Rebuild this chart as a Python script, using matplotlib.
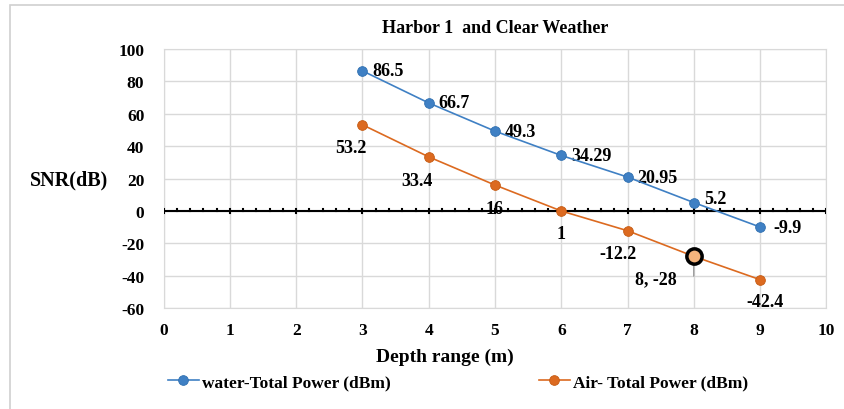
import matplotlib.pyplot as plt
from matplotlib.patches import Rectangle

depth = [3, 4, 5, 6, 7, 8, 9]
water = [86.5, 66.7, 49.3, 34.29, 20.95, 5.2, -9.9]
air = [53.2, 33.4, 16, 0, -12.2, -28, -42.4]
water_labels = ["86.5", "66.7", "49.3", "34.29", "20.95", "5.2", "-9.9"]
air_labels = ["53.2", "33.4", "16", "1", "-12.2", "8, -28", "-42.4"]

blue = "#3f80c4"
orange = "#dc6a20"

plt.rcParams['font.family'] = ['Liberation Serif', 'DejaVu Serif']
plt.rcParams['font.weight'] = 'bold'
plt.rcParams['axes.unicode_minus'] = False

fig = plt.figure(figsize=(8.44, 4.10), dpi=100)
ax = fig.add_axes([0.194, 0.246, 0.785, 0.632])

# outer chart frame
fig.patches.append(Rectangle((10 / 844, -0.05), 1.0, 1 - 6 / 410 + 0.05,
                             transform=fig.transFigure, fill=False,
                             edgecolor="#d0d0d0", lw=1.2))

ax.plot(depth, water, color=blue, lw=1.2, marker='o', ms=7,
        mfc=blue, mec="#2f6fb0", mew=0.6, label="water-Total Power (dBm)", zorder=4)
ax.plot(depth, air, color=orange, lw=1.2, marker='o', ms=7,
        mfc=orange, mec="#c55a11", mew=0.6, label="Air- Total Power (dBm)", zorder=4)

# highlighted point
ax.plot(depth[5], air[5], 'o', ms=11, mfc="#f6b47c", mec="black", mew=2.5, zorder=5)

for x, y, t in zip(depth, water, water_labels):
    dx, dy = 10, 0
    if t == "5.2":
        dy = 4
    if t == "-9.9":
        dx = 13
    ax.annotate(t, (x, y), textcoords='offset pixels', xytext=(dx, dy),
                ha='left', va='center', fontsize=13, fontweight='bold')

air_off = [(-12, -23), (-12, -24), (0, -23), (0, -23), (-10, -23), (-38, -22), (5, -22)]
for x, y, t, (dx, dy) in zip(depth, air, air_labels, air_off):
    ax.annotate(t, (x, y), textcoords='offset pixels', xytext=(dx, dy),
                ha='center', va='center', fontsize=13, fontweight='bold', zorder=6)

# leader line for the highlighted label
ax.annotate("", (depth[5], air[5] - 3), xytext=(depth[5], air[5] - 14),
            arrowprops=dict(arrowstyle='-', color='#888888', lw=0.8))

ax.set_xlim(0, 10)
ax.set_ylim(-60, 100)
ax.set_xticks(range(0, 11))
ax.set_yticks(range(-60, 101, 20))
ax.grid(True, color="#d9d9d9", lw=1)
ax.set_axisbelow(True)
for s in ax.spines.values():
    s.set_color("#d9d9d9")
ax.tick_params(length=0, labelsize=12.5)
ax.tick_params(axis='y', pad=14)
ax.tick_params(axis='x', pad=10)
for lab in ax.get_xticklabels() + ax.get_yticklabels():
    lab.set_fontweight('bold')

# zero line with ticks
ax.axhline(0, color='black', lw=1.5, zorder=3)
for i in range(0, 11):
    ax.plot([i, i], [-1.5, 1.5], color='black', lw=1.5, zorder=3)
for i in range(0, 50):
    if i % 5:
        ax.plot([i / 5, i / 5], [0, 1.2], color='black', lw=1.5, zorder=3)

ax.set_title("Harbor 1  and Clear Weather", fontsize=13, fontweight='bold', pad=12)
fig.text(69 / 844, 1 - 180 / 410, "SNR(dB)", ha='center', va='center',
         fontsize=14.5, fontweight='bold')
fig.text(445 / 844, 1 - 357 / 410, "Depth range (m)", ha='center', va='center',
         fontsize=14, fontweight='bold')

fig.legend(loc='center', bbox_to_anchor=(458 / 844, 1 - 383 / 410), ncol=2,
           frameon=False, fontsize=12.5, columnspacing=8.5, handlelength=1.8,
           handletextpad=0.2)

fig.savefig("out.png", dpi=100)
